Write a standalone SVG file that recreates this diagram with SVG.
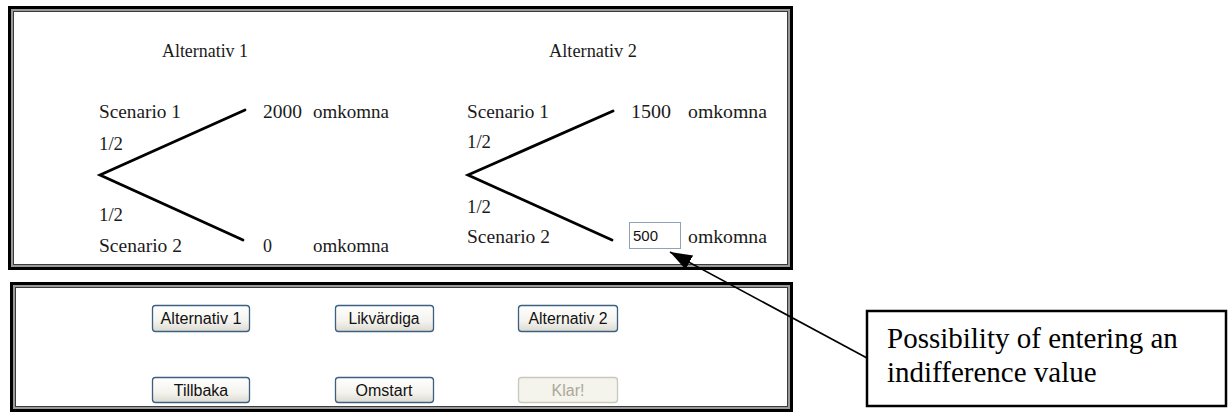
<svg xmlns="http://www.w3.org/2000/svg" width="1228" height="412" viewBox="0 0 1228 412">
<style>
.t{font-family:"Liberation Serif","Times New Roman",serif;font-size:18px;fill:#1a1a1a}
.b{font-family:"Liberation Sans",Arial,sans-serif;font-size:16px;fill:#111;text-anchor:middle}
.btn{fill:url(#bg);stroke:#3d5f80;stroke-width:1.3}
.dis{fill:#f4f3ec;stroke:#cac8bb;stroke-width:1.3}
.tree{stroke:#000;stroke-width:2.8;fill:none;stroke-linecap:round}
.o1{fill:none;stroke:#000;stroke-width:3}
.o2{fill:none;stroke:#9a9a9a;stroke-width:2}
.o3{fill:none;stroke:#3a3a3a;stroke-width:1}
.c{font-family:"Liberation Serif","Times New Roman",serif;font-size:29px;fill:#000}
</style>
<defs>
<linearGradient id="bg" x1="0" y1="0" x2="0" y2="1">
<stop offset="0" stop-color="#ffffff"/>
<stop offset="0.6" stop-color="#f4f3ee"/>
<stop offset="1" stop-color="#dcdad0"/>
</linearGradient>
<marker id="ah" markerUnits="userSpaceOnUse" markerWidth="24" markerHeight="18" refX="22" refY="8" orient="auto">
<path d="M0,0 L22,8 L0,16 Z" fill="#000"/>
</marker>
</defs>
<rect width="1228" height="412" fill="#fff"/>

<g id="panel-top">
<rect x="9.5" y="7.5" width="782" height="261" fill="#fff" class="o1"/>
<rect x="12" y="10" width="777" height="256" class="o2"/>
<rect x="13.5" y="11.5" width="774" height="253" class="o3"/>
</g>

<g id="alt1">
<text class="t" x="162" y="57" textLength="86" lengthAdjust="spacingAndGlyphs">Alternativ 1</text>
<text class="t" x="99" y="118" textLength="82" lengthAdjust="spacingAndGlyphs">Scenario 1</text>
<text class="t" x="99" y="150" textLength="24" lengthAdjust="spacingAndGlyphs">1/2</text>
<text class="t" x="99" y="221" textLength="24" lengthAdjust="spacingAndGlyphs">1/2</text>
<text class="t" x="99" y="252" textLength="83" lengthAdjust="spacingAndGlyphs">Scenario 2</text>
<text class="t" x="263" y="118" textLength="39" lengthAdjust="spacingAndGlyphs">2000</text>
<text class="t" x="313" y="118" textLength="76" lengthAdjust="spacingAndGlyphs">omkomna</text>
<text class="t" x="263" y="252">0</text>
<text class="t" x="313" y="252" textLength="76" lengthAdjust="spacingAndGlyphs">omkomna</text>
</g>

<g id="alt2">
<text class="t" x="549" y="57" textLength="88" lengthAdjust="spacingAndGlyphs">Alternativ 2</text>
<text class="t" x="467" y="118" textLength="82" lengthAdjust="spacingAndGlyphs">Scenario 1</text>
<text class="t" x="467" y="148" textLength="24" lengthAdjust="spacingAndGlyphs">1/2</text>
<text class="t" x="467" y="213" textLength="24" lengthAdjust="spacingAndGlyphs">1/2</text>
<text class="t" x="467" y="243" textLength="83" lengthAdjust="spacingAndGlyphs">Scenario 2</text>
<text class="t" x="631" y="118" textLength="40" lengthAdjust="spacingAndGlyphs">1500</text>
<text class="t" x="688" y="118" textLength="79" lengthAdjust="spacingAndGlyphs">omkomna</text>
<text class="t" x="688" y="243" textLength="79" lengthAdjust="spacingAndGlyphs">omkomna</text>
</g>

<g id="input-500">
<rect x="629.5" y="222.5" width="51" height="26" fill="#fff" stroke="#8ea3b8" stroke-width="1"/>
<text x="633" y="241" font-family="'Liberation Sans',Arial,sans-serif" font-size="15" fill="#111" textLength="25" lengthAdjust="spacingAndGlyphs">500</text>
</g>

<g id="panel-bottom">
<rect x="11.5" y="283.5" width="780" height="127" fill="#fff" class="o1"/>
<rect x="14" y="286" width="775" height="122" class="o2"/>
<rect x="15.5" y="287.5" width="772" height="119" class="o3"/>
</g>

<g id="btn-alt1">
<rect class="btn" x="152.5" y="305.5" width="97" height="26" rx="3"/>
<text class="b" x="201" y="324" textLength="81" lengthAdjust="spacingAndGlyphs">Alternativ 1</text>
</g>
<g id="btn-likvardiga">
<rect class="btn" x="335.5" y="305.5" width="98" height="26" rx="3"/>
<text class="b" x="384" y="324" textLength="71" lengthAdjust="spacingAndGlyphs">Likvärdiga</text>
</g>
<g id="btn-alt2">
<rect class="btn" x="518.5" y="305.5" width="99" height="26" rx="3"/>
<text class="b" x="568" y="324" textLength="79" lengthAdjust="spacingAndGlyphs">Alternativ 2</text>
</g>
<g id="btn-tillbaka">
<rect class="btn" x="152.5" y="377.5" width="97" height="25" rx="3"/>
<text class="b" x="201" y="396">Tillbaka</text>
</g>
<g id="btn-omstart">
<rect class="btn" x="335.5" y="377.5" width="98" height="25" rx="3"/>
<text class="b" x="384" y="396">Omstart</text>
</g>
<g id="btn-klar">
<rect class="dis" x="518.5" y="377.5" width="99" height="25" rx="3"/>
<text class="b" x="568" y="396" style="fill:#aca899">Klar!</text>
</g>

<g id="callout">
<rect x="867" y="311" width="359" height="95" fill="#fff" stroke="#000" stroke-width="2.5"/>
<text class="c" x="887" y="348">Possibility of entering an</text>
<text class="c" x="887" y="382">indifference value</text>
</g>

<g id="connectors">
<polyline class="tree" points="245,110 100,175 243,240"/>
<polyline class="tree" points="613,111 468,175 612,240"/>
<line x1="867" y1="358" x2="670" y2="252" stroke="#000" stroke-width="1.6" marker-end="url(#ah)"/>
</g>
</svg>
